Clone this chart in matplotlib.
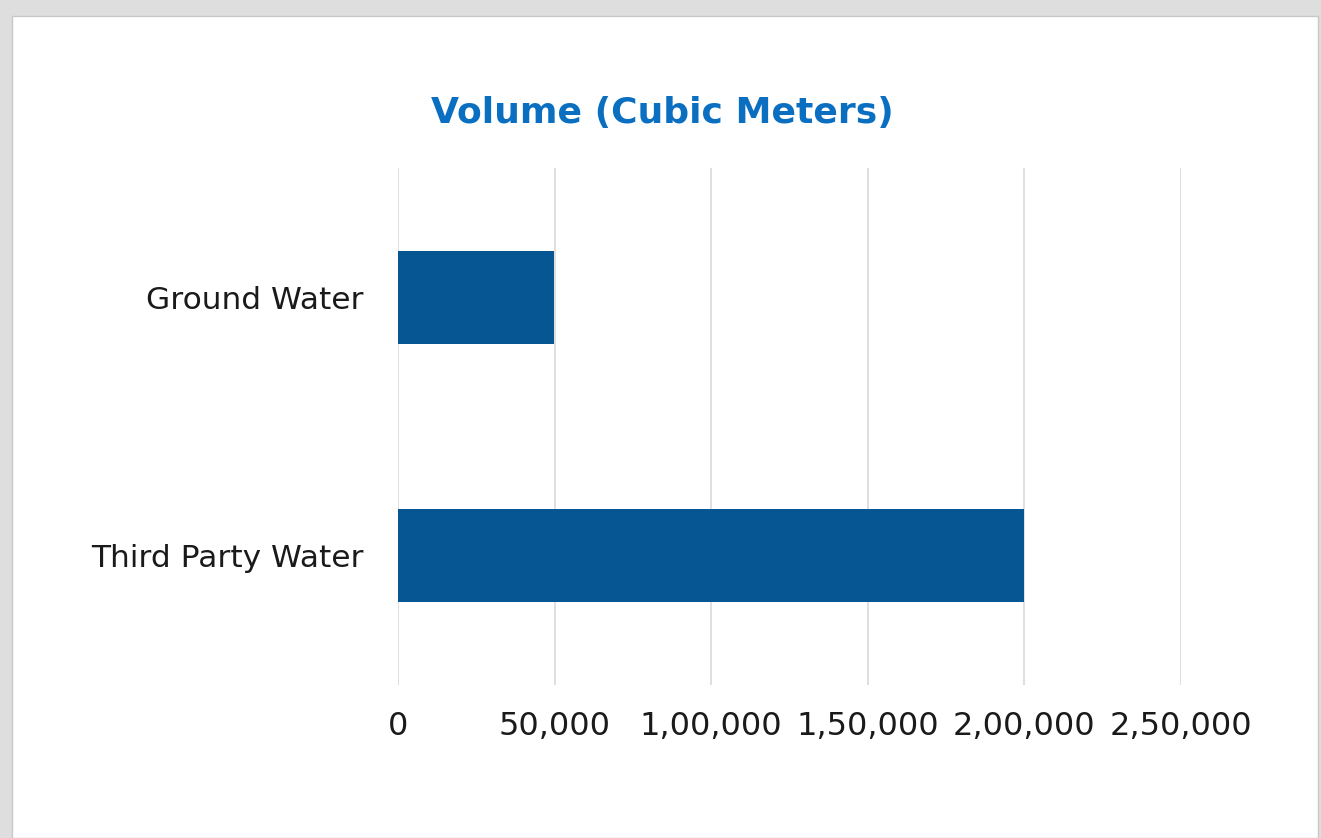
import matplotlib
matplotlib.use('Agg')
import matplotlib.pyplot as plt
from matplotlib.patches import Rectangle

categories = ['Ground Water', 'Third Party Water']
volumes = [49800, 200000]
x_ticks = [0, 50000, 100000, 150000, 200000, 250000]
x_tick_labels = ['0', '50,000', '1,00,000', '1,50,000', '2,00,000', '2,50,000']

plt.rcParams['font.family'] = ['DejaVu Sans']

fig = plt.figure(figsize=(13.21, 8.38), dpi=100)
fig.patch.set_facecolor('#dedede')
# white panel inside the grey frame
fig.add_artist(Rectangle((12/1321, 0), (1318-12)/1321, (838-16)/838,
                         transform=fig.transFigure, facecolor='white',
                         edgecolor='#c8c8c8', linewidth=1, zorder=0))

ax = fig.add_axes([398/1321, 1-685/838, (1181-398)/1321, (685-168)/838])
ax.set_facecolor('none')

ypos = list(range(len(categories)))
ax.barh(ypos, volumes, height=0.36, color='#065694', zorder=3)
ax.set_yticks(ypos)
ax.set_yticklabels(categories)
ax.set_ylim(1.5, -0.5)

ax.set_xlim(0, 250000)
ax.set_xticks(x_ticks)
ax.set_xticklabels(x_tick_labels)
ax.grid(axis='x', color='#d9d9d9', linewidth=1.2, zorder=0)

for s in ax.spines.values():
    s.set_visible(False)
ax.tick_params(axis='both', length=0, colors='#1a1a1a')
ax.tick_params(axis='x', pad=19, labelsize=23)
ax.tick_params(axis='y', pad=25, labelsize=22.5)

fig.text(662/1321, 1-113/838, 'Volume (Cubic Meters)', ha='center', va='center',
         fontsize=26, fontweight='bold', color='#0a6fc0')

fig.savefig('out.png', dpi=100, facecolor=fig.get_facecolor())
